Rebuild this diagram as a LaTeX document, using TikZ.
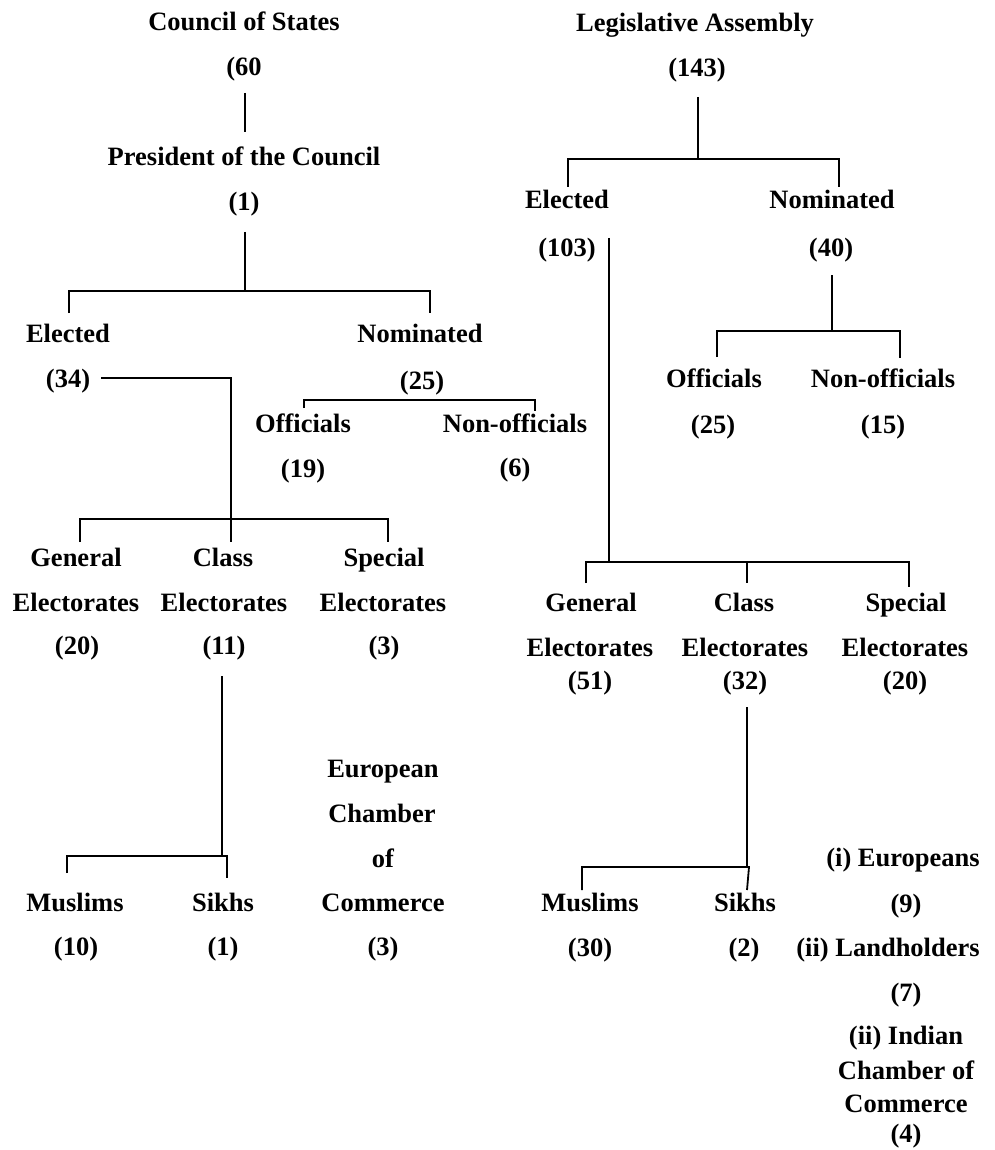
\documentclass[tikz,border=0pt]{standalone}
\usepackage{fontspec}
\setmainfont{Liberation Serif}
\begin{document}
\begin{tikzpicture}[x=1pt,y=-1pt,
  lbl/.style={font=\fontsize{26.5}{30}\selectfont\bfseries, inner sep=0pt, text height=18pt, text depth=0pt, anchor=center},
  ln/.style={line width=1.8pt}]
\useasboundingbox (0,0) rectangle (994,1150);
% ---------- Left: Council of States ----------
\node[lbl] (cs) at (244,22) {Council of States};
\node[lbl] (cs60) at (244,67) {(60};
\node[lbl] (pres) at (244,157) {President of the Council};
\node[lbl] (pres1) at (244,202) {(1)};
\node[lbl] (lel) at (68,333) {Elected};
\node[lbl] (lel34) at (68,378) {(34)};
\node[lbl] (lnom) at (420,333) {Nominated};
\node[lbl] (lnom25) at (422,380) {(25)};
\node[lbl] (loff) at (303,423) {Officials};
\node[lbl] (loff19) at (303,468) {(19)};
\node[lbl] (lnon) at (515,423) {Non-officials};
\node[lbl] (lnon6) at (515,467) {(6)};
\node[lbl] (lgen) at (76,557) {General};
\node[lbl] (lgen2) at (76,602) {Electorates};
\node[lbl] (lgen3) at (77,645) {(20)};
\node[lbl] (lcla) at (223,557) {Class};
\node[lbl] (lcla2) at (224,602) {Electorates};
\node[lbl] (lcla3) at (224,645) {(11)};
\node[lbl] (lspe) at (384,557) {Special};
\node[lbl] (lspe2) at (383,602) {Electorates};
\node[lbl] (lspe3) at (384,645) {(3)};
\node[lbl] (eur1) at (383,768) {European};
\node[lbl] (eur2) at (382,813) {Chamber};
\node[lbl] (eur3) at (383,858) {of};
\node[lbl] (eur4) at (383,902) {Commerce};
\node[lbl] (eur5) at (383,946) {(3)};
\node[lbl] (lmus) at (75,902) {Muslims};
\node[lbl] (lmus2) at (76,946) {(10)};
\node[lbl] (lsik) at (223,902) {Sikhs};
\node[lbl] (lsik2) at (223,946) {(1)};
% ---------- Right: Legislative Assembly ----------
\node[lbl] (la) at (695,23) {Legislative Assembly};
\node[lbl] (la143) at (697,68) {(143)};
\node[lbl] (rel) at (567,200) {Elected};
\node[lbl] (rel103) at (567,247) {(103)};
\node[lbl] (rnom) at (832,200) {Nominated};
\node[lbl] (rnom40) at (831,247) {(40)};
\node[lbl] (roff) at (714,378) {Officials};
\node[lbl] (roff25) at (713,424) {(25)};
\node[lbl] (rnon) at (883,378) {Non-officials};
\node[lbl] (rnon15) at (883,424) {(15)};
\node[lbl] (rgen) at (591,602) {General};
\node[lbl] (rgen2) at (590,647) {Electorates};
\node[lbl] (rgen3) at (590,680) {(51)};
\node[lbl] (rcla) at (744,602) {Class};
\node[lbl] (rcla2) at (745,647) {Electorates};
\node[lbl] (rcla3) at (745,680) {(32)};
\node[lbl] (rspe) at (906,602) {Special};
\node[lbl] (rspe2) at (905,647) {Electorates};
\node[lbl] (rspe3) at (905,680) {(20)};
\node[lbl] (rmus) at (590,902) {Muslims};
\node[lbl] (rmus2) at (590,947) {(30)};
\node[lbl] (rsik) at (745,902) {Sikhs};
\node[lbl] (rsik2) at (744,947) {(2)};
\node[lbl] (sp1) at (903,857) {(i) Europeans};
\node[lbl] (sp2) at (906,903) {(9)};
\node[lbl] (sp3) at (888,947) {(ii) Landholders};
\node[lbl] (sp4) at (906,992) {(7)};
\node[lbl] (sp5) at (906,1035) {(ii) Indian};
\node[lbl] (sp6) at (906,1070) {Chamber of};
\node[lbl] (sp7) at (906,1103) {Commerce};
\node[lbl] (sp8) at (906,1133) {(4)};
% ---------- junction coordinates ----------
\coordinate (a1) at (245,93);  \coordinate (a2) at (245,132);
\coordinate (b1) at (245,232); \coordinate (b2) at (245,291);
\coordinate (b3) at (69,291);  \coordinate (b4) at (430,291);
\coordinate (b5) at (69,313);  \coordinate (b6) at (430,313);
\coordinate (c1) at (101,378); \coordinate (c2) at (231,378); \coordinate (c3) at (231,542);
\coordinate (d1) at (304,400); \coordinate (d2) at (535,400);
\coordinate (d3) at (304,408); \coordinate (d4) at (535,411);
\coordinate (e1) at (80,519);  \coordinate (e2) at (388,519);
\coordinate (e3) at (80,542);  \coordinate (e4) at (388,542);
\coordinate (f1) at (222,676); \coordinate (f2) at (222,856);
\coordinate (f3) at (67,856);  \coordinate (f4) at (227,856);
\coordinate (f5) at (67,873);  \coordinate (f6) at (227,878);
\coordinate (g1) at (698,97);  \coordinate (g2) at (698,159);
\coordinate (g3) at (568,159); \coordinate (g4) at (839,159);
\coordinate (g5) at (568,187); \coordinate (g6) at (839,187);
\coordinate (h1) at (832,275); \coordinate (h2) at (832,331);
\coordinate (h3) at (717,331); \coordinate (h4) at (900,331);
\coordinate (h5) at (717,357); \coordinate (h6) at (900,358);
\coordinate (i1) at (609,238); \coordinate (i2) at (609,562);
\coordinate (i3) at (586,562); \coordinate (i4) at (909,562);
\coordinate (i5) at (586,583); \coordinate (i6) at (909,587);
\coordinate (i7) at (747,562); \coordinate (i8) at (747,583);
\coordinate (j1) at (747,707); \coordinate (j2) at (747,867);
\coordinate (j3) at (582,867); \coordinate (j4) at (749,867);
\coordinate (j5) at (582,890); \coordinate (j6) at (747,890);
% ---------- connectors ----------
\draw[ln] (a1) -- (a2);
\draw[ln] (b1) -- (b2);
\draw[ln] (b5) -- (b3) -- (b4) -- (b6);
\draw[ln] (c1) -- (c2) -- (c3);
\draw[ln] (d3) -- (d1) -- (d2) -- (d4);
\draw[ln] (e3) -- (e1) -- (e2) -- (e4);
\draw[ln] (f1) -- (f2);
\draw[ln] (f5) -- (f3) -- (f4) -- (f6);
\draw[ln] (g1) -- (g2);
\draw[ln] (g5) -- (g3) -- (g4) -- (g6);
\draw[ln] (h1) -- (h2);
\draw[ln] (h5) -- (h3) -- (h4) -- (h6);
\draw[ln] (i1) -- (i2);
\draw[ln] (i5) -- (i3) -- (i4) -- (i6);
\draw[ln] (i7) -- (i8);
\draw[ln] (j1) -- (j2);
\draw[ln] (j5) -- (j3) -- (j4) -- (j6);
\end{tikzpicture}
\end{document}
